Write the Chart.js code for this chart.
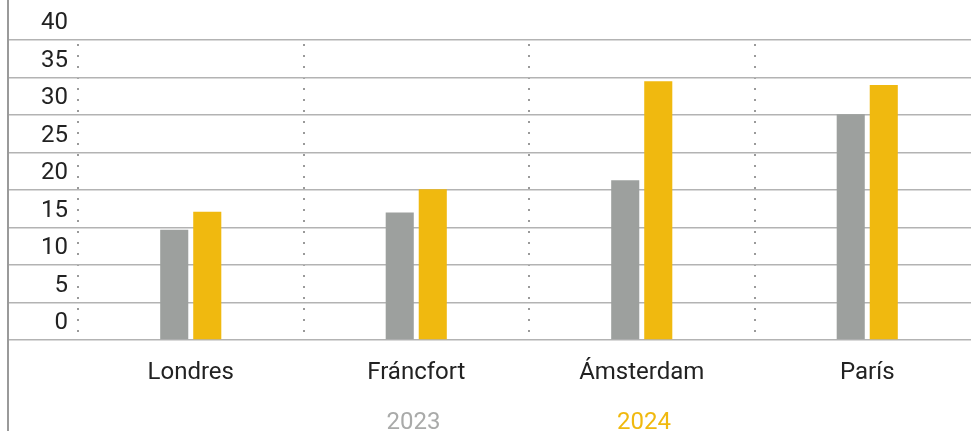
<!DOCTYPE html>
<html>
<head>
<meta charset="utf-8">
<script src="https://cdn.jsdelivr.net/npm/chart.js@4"></script>
<style>
  html, body { margin: 0; padding: 0; background: #fff; overflow: hidden; }
  #wrap { position: absolute; left: 7px; top: 0; width: 971px; height: 431px; border-left: 2px solid #9a9a9a; }
  .leg { position: absolute; top: 409px; width: 200px; text-align: center; font: 24px Roboto, sans-serif; line-height: 24px; }
</style>
</head>
<body>
<div id="wrap"><canvas id="barChart"></canvas></div>
<div id="legend"></div>
<script>
const cities = ["Londres", "Fráncfort", "Ámsterdam", "París"];
const seriesNames = ["2023", "2024"];
const values2023 = [14.7, 17, 21.3, 30.1];
const values2024 = [17.1, 20.1, 34.5, 34];
const yTicks = [0, 5, 10, 15, 20, 25, 30, 35, 40];

const gray = "#9da09e";
const yellow = "#f0b90f";
const textColor = "#222222";

new Chart(document.getElementById("barChart"), {
  type: "bar",
  data: {
    labels: cities,
    datasets: [{
      label: seriesNames[0],
      data: values2023,
      backgroundColor: gray,
      categoryPercentage: 0.293,
      barPercentage: 0.85
    }, {
      label: seriesNames[1],
      data: values2024,
      backgroundColor: yellow,
      categoryPercentage: 0.293,
      barPercentage: 0.85
    }]
  },
  options: {
    responsive: true,
    maintainAspectRatio: false,
    animation: false,
    devicePixelRatio: 1,
    layout: { padding: { top: 40, left: 0, right: 0, bottom: 0 } },
    plugins: {
      legend: { display: false },
      tooltip: { enabled: false }
    },
    scales: {
      x: {
        // dotted lines between the cities
        border: { display: false, dash: [2, 9], dashOffset: 7 },
        grid: {
          offset: true,
          drawTicks: false,
          color: "#9a9a9a",
          lineWidth: 2
        },
        ticks: {
          color: textColor,
          font: { family: "Roboto", size: 24 },
          padding: 19
        },
        afterFit: function(scale) { scale.height = 91; }
      },
      y: {
        min: yTicks[0],
        max: yTicks[yTicks.length - 1],
        border: { display: false },
        grid: {
          color: "#b3b3b3",
          lineWidth: 1.5,
          drawTicks: true,
          tickLength: 69
        },
        afterBuildTicks: function(scale) {
          scale.ticks = yTicks.map(v => ({ value: v }));
        },
        ticks: {
          color: textColor,
          font: { family: "Roboto", size: 24 },
          padding: -59,
          labelOffset: -17
        },
        afterFit: function(scale) { scale.width = 69; }
      }
    }
  }
});

// legend as coloured text under the chart
const legendColors = [ "#a9aaa9", yellow ];
const legendCenters = [413.5, 644];
const legend = document.getElementById("legend");
seriesNames.forEach((name, i) => {
  const span = document.createElement("div");
  span.className = "leg";
  span.textContent = name;
  span.style.color = legendColors[i];
  span.style.left = (legendCenters[i] - 100) + "px";
  legend.appendChild(span);
});
</script>
</body>
</html>
